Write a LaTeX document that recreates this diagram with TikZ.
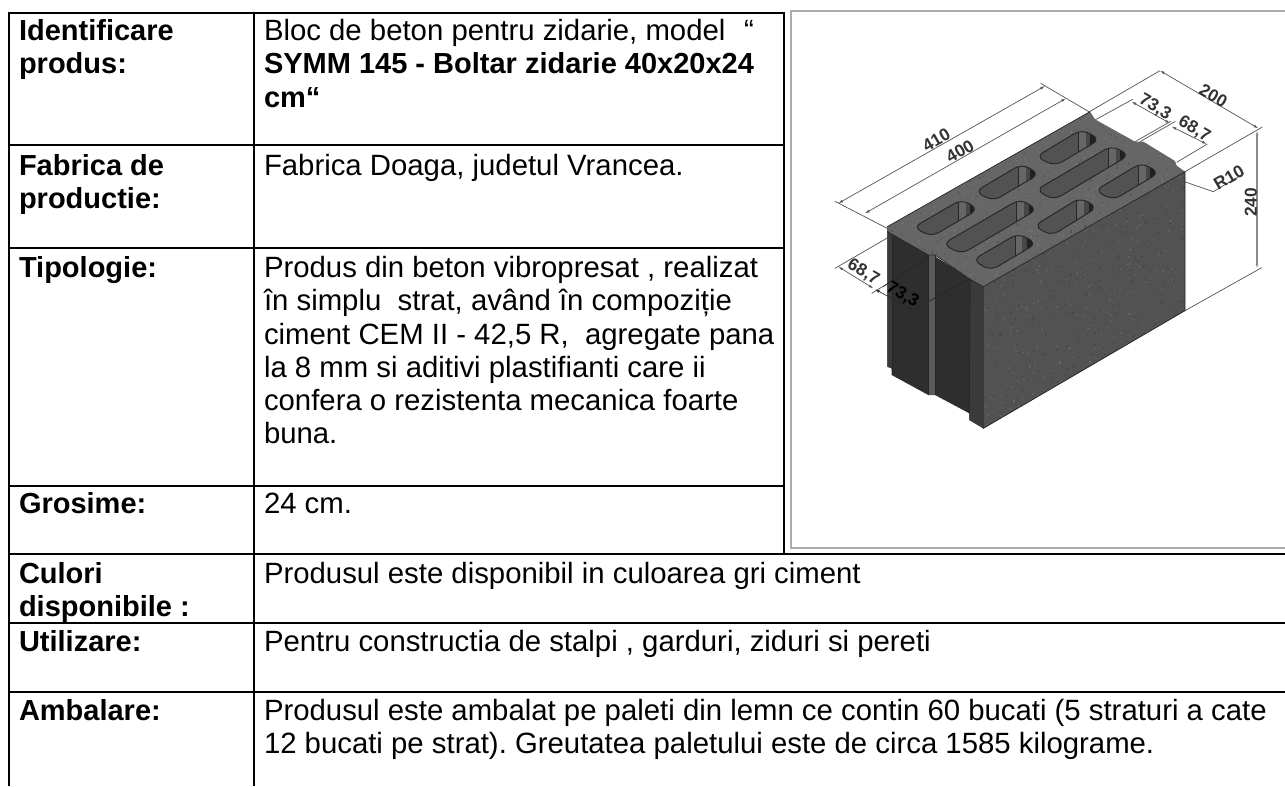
\documentclass[tikz,border=0pt]{standalone}
\usepackage{fontspec}
\setmainfont{Liberation Sans}
\frenchspacing
\usetikzlibrary{arrows.meta}
\definecolor{topface}{HTML}{666666}
\definecolor{rightface}{HTML}{525252}
\definecolor{leftface}{HTML}{2E2E2E}
\definecolor{sideface}{HTML}{3A3A3A}
\definecolor{ribface}{HTML}{5A5A5A}
\definecolor{framegrey}{HTML}{ABABAB}
\definecolor{dimgrey}{HTML}{5A5A5A}
\tikzset{
  rule/.style={draw=black,line width=1.5pt},
  frameline/.style={draw=framegrey,line width=1.5pt},
  txt/.style={anchor=base west,inner sep=0pt,outer sep=0pt,font=\fontsize{22}{24}\selectfont,text=black},
  btxt/.style={txt,font=\fontsize{21.75}{24}\selectfont\bfseries},
  dimline/.style={draw=dimgrey,line width=0.55pt},
  dimarrow/.style={dimline,{Latex[length=3.5pt,width=2.2pt]}-{Latex[length=3.5pt,width=2.2pt]}},
  dimtxt/.style={inner sep=0pt,font=\fontsize{13}{14}\selectfont\bfseries,text=black!80},
  edge/.style={draw=black!85,line width=0.55pt},
}
\newcommand{\slothole}[8]{%
  \begin{scope}
    \clip[rounded corners=6pt] (#1,#2)--(#3,#4)--(#5,#6)--(#7,#8)--cycle;
    \fill[fill=black!68] (#1-20,#4-20) rectangle (#5+20,#8+20);
    \fill[fill=black!60] (#3-10,#4-20) rectangle (#3+12,#8+20);
    \fill[fill=black!72] (#3+12,#4-20) rectangle (#3+26,#8+20);
    \fill[fill=black!87] (#3+26,#4-20) rectangle (#5+20,#8+20);
    \draw[draw=black!85,line width=0.35pt] (#3-10,#4-20)--(#3-10,#8+20);
  \end{scope}
  \draw[draw=black!85,line width=0.7pt,rounded corners=6pt] (#1,#2)--(#3,#4)--(#5,#6)--(#7,#8)--cycle;
}
\newcommand{\speckle}[5]{%
  \foreach \n in {1,...,#5}{%
    \pgfmathsetmacro{\sx}{#1+rnd*(#3-#1)}%
    \pgfmathsetmacro{\sy}{#2+rnd*(#4-#2)}%
    \pgfmathsetmacro{\sk}{rnd>0.5?1:0}%
    \ifdim\sk pt>0.5pt
      \fill[white,opacity=0.07] (\sx,\sy) rectangle +(5,5);
    \else
      \fill[black,opacity=0.10] (\sx,\sy) rectangle +(5,5);
    \fi
  }%
}
\begin{document}
\begin{tikzpicture}[x=0.75pt,y=-0.75pt]
\pgfmathsetseed{7}
\useasboundingbox (0,0) rectangle (1285,786);
\fill[white] (0,0) rectangle (1285,786);

% picture frame
\draw[frameline] (1285,11) -- (791,11) -- (791,547.5) -- (1285,547.5);

% table rules
\draw[rule] (9,786) -- (9,12.5) -- (784,12.5) -- (784,553.5);
\draw[rule] (254,12.5) -- (254,786);
\draw[rule] (9,145) -- (784,145);
\draw[rule] (9,248) -- (784,248);
\draw[rule] (9,486) -- (784,486);
\draw[rule] (9,553.5) -- (1285,553.5);
\draw[rule] (9,622.7) -- (1285,622.7);
\draw[rule] (9,692) -- (1285,692);

% left column
\node[btxt] (l1a) at (19,40) {Identificare};
\node[btxt] (l1b) at (19,73) {produs:};
\node[btxt] (l2a) at (19,175) {Fabrica de};
\node[btxt] (l2b) at (19,208) {productie:};
\node[btxt] (l3) at (19,277) {Tipologie:};
\node[btxt] (l4) at (19,513) {Grosime:};
\node[btxt] (l5a) at (19,583) {Culori};
\node[btxt] (l5b) at (19,616) {disponibile :};
\node[btxt] (l6) at (19,651) {Utilizare:};
\node[btxt] (l7) at (19,720) {Ambalare:};

% right column
\node[txt] (r1a) at (264,40) {Bloc de beton pentru zidarie, model};
\node[txt] (r1q) at (744,40) {“};
\node[btxt] (r1b) at (264,73) {SYMM 145 - Boltar zidarie 40x20x24};
\node[btxt] (r1c) at (264,107) {cm“};
\node[txt] (r2) at (264,175) {Fabrica Doaga, judetul Vrancea.};
\node[txt] (r3a) at (264,277) {Produs din beton vibropresat , realizat};
\node[txt] (r3b) at (264,310) {în simplu\ \ strat, având în compoziție};
\node[txt] (r3c) at (264,344) {ciment CEM II - 42,5 R,\ \ agregate pana};
\node[txt] (r3d) at (264,377) {la 8 mm si aditivi plastifianti care ii};
\node[txt] (r3e) at (264,410) {confera o rezistenta mecanica foarte};
\node[txt] (r3f) at (264,443) {buna.};
\node[txt] (r4) at (264,513) {24 cm.};
\node[txt] (r5) at (264,583) {Produsul este disponibil in culoarea gri ciment};
\node[txt] (r6) at (264,651) {Pentru constructia de stalpi , garduri, ziduri si pereti};
\node[txt] (r7a) at (264,720) {Produsul este ambalat pe paleti din lemn ce contin 60 bucati (5 straturi a cate};
\node[txt] (r7b) at (264,753) {12 bucati pe strat). Greutatea paletului este de circa 1585 kilograme.};

% block drawing, in a frame three times finer
\begin{scope}[shift={(780,0)},x=0.25pt,y=-0.25pt]
  % dimension lines behind the block
  \draw[dimline] (165,604)--(335,692);
  \draw[dimline] (782,250)--(930,337);
  \draw[dimarrow] (175,610)--(795,258);
  \draw[dimarrow] (255,640)--(858,295);
  \draw[dimline] (925,337)--(1140,212);
  \draw[dimarrow] (1140,212)--(1435,385);
  \draw[dimline] (1210,518)--(1447,381);
  \draw[dimline] (945,360)--(1058,298);
  \draw[dimline] (1065,425)--(1172,364);
  \draw[dimarrow] (1055,305)--(1170,370);
  \draw[dimline] (1080,425)--(1186,364);
  \draw[dimline] (1190,487)--(1282,432);
  \draw[dimarrow] (1175,380)--(1280,432);
  \draw[dimline] (1135,518)--(1300,575)--(1392,520);
  \draw[dimarrow,draw=black!45,line width=0.9pt] (1431,392)--(1431,805);
  \draw[dimline] (1215,932)--(1445,803);
  \draw[dimline] (165,805)--(332,708);
  \draw[dimarrow] (175,800)--(280,865);
  \draw[dimline] (275,880)--(340,840);

  % left (end) face
  \fill[leftface] (322,680)--(322,1100)--(335,1105)--(335,1125)--(445,1185)--(465,1185)--(568,1240)--(568,1260)--(610,1285)--(610,860)--cycle;
  \fill[sideface] (322,690)--(337,700)--(337,1125)--(335,1105)--(322,1100)--cycle;
  \fill[ribface] (445,765)--(465,765)--(465,1185)--(445,1185)--cycle;
  \fill[sideface] (570,838)--(610,860)--(610,1285)--(568,1260)--cycle;
  \draw[edge] (337,700)--(337,1125);
  \draw[edge] (445,765)--(445,1185);
  \draw[edge] (465,765)--(465,1185);
  \draw[edge] (570,838)--(568,1240);
  % right (long) face
  \fill[rightface] (610,860)--(1215,515)--(1215,932)--(610,1285)--cycle;
  \begin{scope}
    \clip (610,860)--(1215,515)--(1215,932)--(610,1285)--cycle;
    \speckle{610}{515}{1215}{1285}{1000}
  \end{scope}
  \draw[edge] (610,860)--(610,1285)--(1215,932)--(1215,515);
  % top face
  \fill[topface] (322,680)--(930,335)--(945,358)--(1065,425)--(1090,425)--(1185,483)--(1190,497)--(1215,515)--(610,860)--(570,838)--(465,765)--(445,765)--(340,705)--(322,695)--cycle;
  \begin{scope}
    \clip (322,680)--(930,335)--(945,358)--(1065,425)--(1090,425)--(1185,483)--(1190,497)--(1215,515)--(610,860)--(570,838)--(465,765)--(445,765)--(340,705)--(322,695)--cycle;
    \speckle{322}{335}{1215}{860}{1000}
  \end{scope}
  \draw[edge] (322,680)--(930,335);
  \draw[edge] (610,860)--(1215,515);
  \draw[edge] (322,695)--(340,705)--(445,765)--(465,765)--(570,838)--(610,860);

  % slots
  \slothole{768}{470}{905}{388}{960}{418}{825}{498}
  \slothole{585}{575}{725}{492}{778}{522}{640}{603}
  \slothole{400}{682}{545}{598}{595}{628}{455}{710}
  \slothole{768}{570}{995}{437}{1048}{465}{822}{600}
  \slothole{488}{732}{720}{597}{772}{628}{545}{762}
  \slothole{945}{572}{1085}{488}{1138}{518}{1000}{600}
  \slothole{762}{678}{900}{593}{952}{622}{815}{707}
  \slothole{578}{780}{715}{700}{770}{730}{632}{812}

  % dimension lines in front of the block
  \draw[edge,line width=0.45pt] (310,860)--(445,770);
  \draw[edge,line width=0.45pt] (400,930)--(570,835);
  \draw[edge,{Latex[length=3.5pt,width=2.2pt]}-{Latex[length=3.5pt,width=2.2pt]},line width=0.45pt] (285,868)--(400,930);

  % labels
  \node[dimtxt,rotate=30] (d410) at (469,420) {410};
  \node[dimtxt,rotate=30] (d400) at (540,454) {400};
  \node[dimtxt,rotate=-30] (d200) at (1300,288) {200};
  \node[dimtxt,rotate=-30] (d733a) at (1125,322) {73,3};
  \node[dimtxt,rotate=-30] (d687a) at (1243,388) {68,7};
  \node[dimtxt,rotate=30] (dr10) at (1347,532) {R10};
  \node[dimtxt,rotate=90] (d240) at (1413,607) {240};
  \node[dimtxt,rotate=-30] (d687b) at (250,817) {68,7};
  \node[dimtxt,rotate=-30,text=black] (d733b) at (368,885) {73,3};
\end{scope}
\end{tikzpicture}
\end{document}
